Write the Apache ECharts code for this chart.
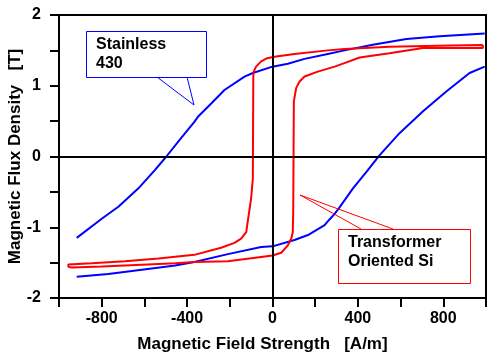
<!DOCTYPE html>
<html><head><meta charset="utf-8">
<script src="https://cdn.jsdelivr.net/npm/echarts@6/dist/echarts.min.js"></script>
<style>html,body{margin:0;padding:0;background:#fff}#c{width:491px;height:360px}</style>
</head><body><div id="c"></div><script>
// Stainless 430 - upper (descending) branch
const ssUpperH = [-917, -800, -722, -628, -550, -497, -436, -366, -347, -287, -225, -131, -92, 0, 72, 150, 259, 337, 470, 627, 783, 994];
const ssUpperB = [-1.15, -0.88, -0.71, -0.45, -0.19, 0.0, 0.23, 0.49, 0.57, 0.75, 0.94, 1.13, 1.18, 1.27, 1.31, 1.38, 1.45, 1.50, 1.58, 1.66, 1.70, 1.74];
// Stainless 430 - lower (ascending) branch
const ssLowerH = [-917, -769, -612, -456, -366, -209, -53, 0, 103, 166, 244, 267, 291, 314, 377, 439, 502, 595, 705, 814, 923, 994];
const ssLowerB = [-1.70, -1.66, -1.60, -1.54, -1.49, -1.38, -1.28, -1.27, -1.18, -1.11, -0.97, -0.89, -0.81, -0.72, -0.45, -0.22, 0.02, 0.33, 0.64, 0.92, 1.18, 1.27];
// Transformer oriented Si - closed loop (upper branch then lower branch)
const siUpperH = [985, 830, 548, 337, 259, 103, 9, -25, -53, -77, -88, -90, -92, -100, -116, -123, -147, -178, -241, -366, -534, -691, -847, -956];
const siUpperB = [1.575, 1.57, 1.55, 1.52, 1.50, 1.45, 1.41, 1.39, 1.345, 1.27, 1.20, 1.13, -0.31, -0.59, -0.92, -1.07, -1.16, -1.22, -1.29, -1.39, -1.44, -1.48, -1.51, -1.525];
const siLowerH = [-956, -940, -800, -612, -456, -366, -209, -53, 0, 41, 72, 88, 95, 97, 100, 111, 127, 150, 212, 291, 337, 408, 548, 705, 814, 985, 985];
const siLowerB = [-1.56, -1.57, -1.555, -1.53, -1.51, -1.49, -1.48, -1.42, -1.40, -1.36, -1.255, -1.16, -1.07, -0.80, 0.78, 0.97, 1.06, 1.13, 1.20, 1.27, 1.32, 1.40, 1.46, 1.535, 1.535, 1.535, 1.575];
const xLabelValues = [-800, -400, 0, 400, 800];
const yLabelValues = [-2, -1, 0, 1, 2];
const xTitle = 'Magnetic Field Strength   [A/m]';
const yTitle = 'Magnetic Flux Density   [T]';
const ssLabel = ['Stainless', '430'];
const siLabel = ['Transformer', 'Oriented Si'];

const zip = (a, b) => a.map((v, i) => [v, b[i]]);
const FONT = 'Liberation Sans, Arial, sans-serif';
const txt = {color: '#000', fontFamily: FONT, fontWeight: 'bold', fontSize: 16};
const titleTxt = Object.assign({}, txt, {fontSize: 17});

const chart = echarts.init(document.getElementById('c'), null, {renderer: 'canvas'});
const lineSeries = (data, color) => ({
  type: 'line', data, showSymbol: false, symbol: 'none', smooth: false,
  lineStyle: {color, width: 2}, itemStyle: {color}, animation: false, silent: true, clip: true
});

chart.setOption({
  animation: false,
  backgroundColor: '#fff',
  grid: {left: 59, right: 5, top: 15, bottom: 62, containLabel: false, outerBoundsMode: 'none',
    show: true, borderColor: '#000', borderWidth: 2, backgroundColor: 'transparent'},
  xAxis: {
    type: 'value', min: -1000, max: 1000, interval: 200,
    axisLine: {onZero: false, lineStyle: {color: '#000', width: 2}},
    axisTick: {show: true, inside: false, length: 9, lineStyle: {color: '#000', width: 2}},
    splitLine: {show: false},
    axisLabel: Object.assign({margin: 13, formatter: v => xLabelValues.includes(v) ? String(v) : ''}, txt),
    name: xTitle, nameLocation: 'middle', nameGap: 38, nameMoveOverlap: false,
    nameTextStyle: Object.assign({padding: [0, 20, 0, 0]}, titleTxt)
  },
  yAxis: {
    type: 'value', min: -2, max: 2, interval: 0.5,
    axisLine: {onZero: false, lineStyle: {color: '#000', width: 2}},
    axisTick: {show: true, inside: false, length: 9, lineStyle: {color: '#000', width: 2}},
    splitLine: {show: false},
    axisLabel: Object.assign({margin: 18, formatter: v => yLabelValues.includes(v) ? String(v) : ''}, txt),
    name: yTitle, nameLocation: 'middle', nameGap: 35, nameRotate: 90, nameMoveOverlap: false,
    nameTextStyle: titleTxt
  },
  series: [
    Object.assign(lineSeries(zip(ssUpperH, ssUpperB), '#0000ff'), {
      markLine: {silent: true, symbol: ['none', 'none'], label: {show: false}, animation: false,
        lineStyle: {color: '#000', type: 'solid', width: 2},
        emphasis: {disabled: true},
        data: [{xAxis: 0}, {yAxis: 0}]}
    }),
    lineSeries(zip(ssLowerH, ssLowerB), '#0000ff'),
    lineSeries(zip(siUpperH, siUpperB).concat(zip(siLowerH, siLowerB)), '#ff0000')
  ],
  graphic: [
    {type: 'polyline', shape: {points: [[157, 77], [194, 105], [187, 77]]}, style: {stroke: '#0000ff', fill: null, lineWidth: 1}, z: 100},
    {type: 'rect', shape: {x: 86.5, y: 31.5, width: 120, height: 46}, style: {stroke: '#0000ff', fill: '#fff', lineWidth: 1}, z: 101},
    {type: 'text', x: 96, y: 45, style: {text: ssLabel[0], fill: '#000', font: 'bold 16px ' + FONT, verticalAlign: 'middle', align: 'left'}, z: 102},
    {type: 'text', x: 96, y: 64, style: {text: ssLabel[1], fill: '#000', font: 'bold 16px ' + FONT, verticalAlign: 'middle', align: 'left'}, z: 102},
    {type: 'polyline', shape: {points: [[361, 229], [300, 195], [393, 229]]}, style: {stroke: '#ff0000', fill: null, lineWidth: 1}, z: 100},
    {type: 'rect', shape: {x: 338.5, y: 229.5, width: 132, height: 54}, style: {stroke: '#ff0000', fill: '#fff', lineWidth: 1}, z: 101},
    {type: 'text', x: 348, y: 243, style: {text: siLabel[0], fill: '#000', font: 'bold 16px ' + FONT, verticalAlign: 'middle', align: 'left'}, z: 102},
    {type: 'text', x: 348, y: 262, style: {text: siLabel[1], fill: '#000', font: 'bold 16px ' + FONT, verticalAlign: 'middle', align: 'left'}, z: 102}
  ]
});
</script></body></html>
